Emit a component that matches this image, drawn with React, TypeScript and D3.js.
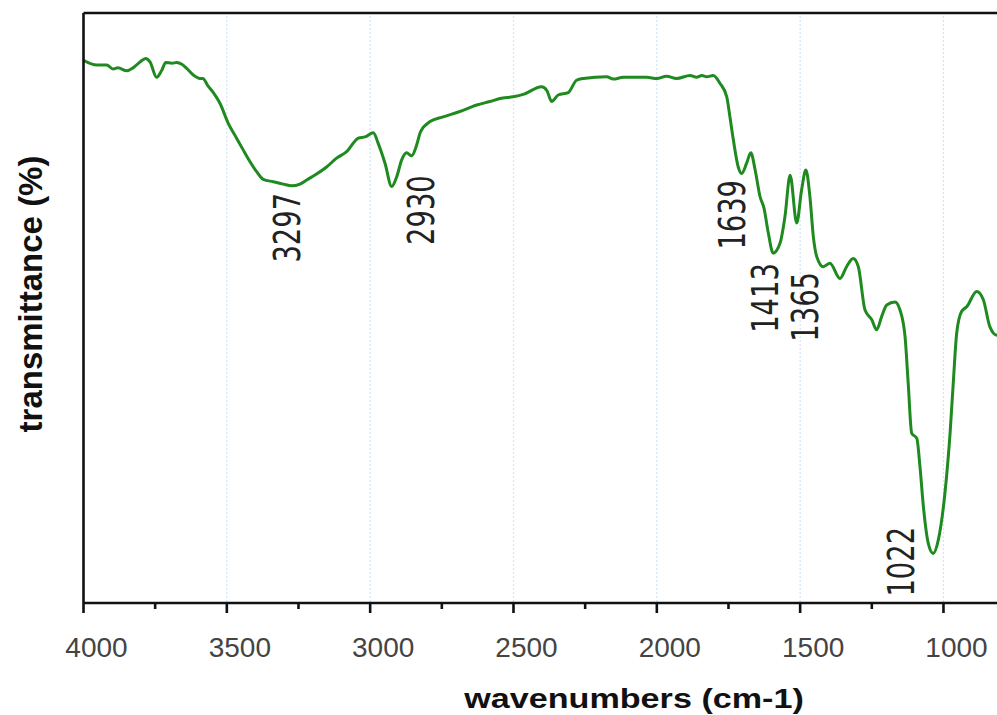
import React from "react";
import * as d3 from "d3";

// Spectrum: wavenumber (cm-1) and transmittance (%)
const wavenumbers = [
  4000, 3954, 3919, 3897, 3880, 3849, 3827, 3803, 3783, 3768, 3745, 3727, 3713, 3692, 3675, 3657, 3640, 3617,
  3594, 3584, 3565, 3547, 3524, 3495, 3472, 3443, 3419, 3396, 3373, 3338, 3303, 3274, 3245, 3221, 3187, 3152,
  3117, 3082, 3041, 3018, 2989, 2972, 2948, 2925, 2907, 2890, 2873, 2855, 2840, 2824, 2791, 2745, 2687, 2628,
  2582, 2547, 2501, 2466, 2402, 2384, 2367, 2344, 2309, 2280, 2256, 2175, 2152, 2117, 2035, 2000, 1966, 1931,
  1884, 1861, 1843, 1826, 1803, 1780, 1756, 1745, 1733, 1716, 1704, 1687, 1672, 1657, 1640, 1626, 1611, 1594,
  1570, 1553, 1535, 1512, 1495, 1480, 1466, 1454, 1442, 1419, 1396, 1361, 1338, 1315, 1297, 1274, 1250, 1233,
  1216, 1198, 1169, 1152, 1134, 1123, 1111, 1093, 1082, 1070, 1053, 1036, 1018, 995, 977, 966, 954, 937, 919,
  884, 861, 838, 814, 785,
];
const transmittance = [
  92.0, 91.2, 91.2, 90.5, 90.7, 90.2, 90.7, 91.7, 92.3, 91.7, 89.1, 90.3, 91.6, 91.5, 91.6, 91.3, 90.6, 89.5,
  88.9, 88.9, 87.6, 86.5, 84.7, 81.3, 79.3, 76.8, 74.8, 73.1, 71.8, 71.4, 71.0, 70.7, 71.0, 71.7, 72.7, 73.9,
  75.4, 76.5, 78.8, 79.0, 79.7, 77.9, 74.5, 70.6, 72.3, 75.1, 76.3, 75.8, 77.3, 79.9, 81.6, 82.4, 83.3, 84.4,
  85.0, 85.5, 85.8, 86.2, 87.5, 86.9, 85.0, 86.1, 86.5, 88.6, 88.9, 89.2, 88.8, 89.1, 89.1, 88.9, 89.3, 88.9,
  89.4, 89.1, 89.4, 89.2, 89.4, 88.1, 85.8, 82.4, 78.5, 73.9, 72.8, 74.5, 76.3, 73.4, 68.9, 66.9, 62.7, 59.3,
  61.0, 65.5, 72.5, 64.4, 70.0, 73.4, 68.9, 62.1, 58.7, 57.0, 57.6, 55.0, 57.0, 58.4, 57.0, 49.7, 48.0, 46.3,
  48.5, 50.5, 51.0, 49.7, 45.1, 37.2, 28.8, 27.9, 23.1, 16.3, 10.1, 8.4, 10.7, 18.6, 28.8, 37.2, 45.7, 49.4, 50.2,
  52.8, 51.4, 46.8, 45.4, 46.0,
];

// Peak annotations: text, wavenumber where the label sits, transmittance at label top
const peakLabels = ["3297", "2930", "1639", "1413", "1365", "1022"];
const peakLabelWavenumbers = [3290, 2823, 1738, 1623, 1483, 1148];
const peakLabelTops = [69.5, 72.5, 71.7, 57.6, 56.1, 12.9];

const majorTicks = [4000, 3500, 3000, 2500, 2000, 1500, 1000];
const minorTicks = [3750, 3250, 2750, 2250, 1750, 1250];
const gridTicks = [3500, 3000, 2500, 2000, 1500, 1000];

const xTitle = "wavenumbers (cm-1)";
const yTitle = "transmittance (%)";

const W = 997;
const H = 715;
const left = 83.5;
const top = 13;
const bottom = 603;
const pxPer500 = 143.33;

export default function App() {
  const x = d3
    .scaleLinear()
    .domain([4000, 400])
    .range([left, left + (3600 / 500) * pxPer500]);
  const y = d3.scaleLinear().domain([0, 100]).range([bottom, top]);

  const pts = wavenumbers.map((w, i) => [w, transmittance[i]] as [number, number]);
  const line = d3
    .line<[number, number]>()
    .x((d) => x(d[0]))
    .y((d) => y(d[1]))
    .curve(d3.curveMonotoneX);

  const green = "#1f8a1f";
  const labelFs = 37;

  return (
    <svg
      width={W}
      height={H}
      style={{ position: "absolute", left: 0, top: 0, background: "#fff" }}
    >
      <defs>
        <clipPath id="plotclip">
          <rect x={left} y={top} width={W - left} height={bottom - top} />
        </clipPath>
      </defs>
      {/* grid */}
      {gridTicks.map((t) => (
        <line
          key={"g" + t}
          x1={x(t)}
          x2={x(t)}
          y1={top + 3}
          y2={bottom}
          stroke="#cfe5f7"
          strokeWidth={1.2}
          strokeDasharray="2,2"
        />
      ))}
      {/* spectrum */}
      <path
        d={line(pts) || ""}
        fill="none"
        stroke={green}
        strokeWidth={3}
        strokeLinejoin="round"
        clipPath="url(#plotclip)"
      />
      {/* frame */}
      <line x1={left} x2={W} y1={top} y2={top} stroke="#111" strokeWidth={2.6} />
      <line x1={left} x2={left} y1={top} y2={bottom} stroke="#111" strokeWidth={2.6} />
      <line x1={left} x2={W} y1={bottom} y2={bottom} stroke="#111" strokeWidth={2.6} />
      {majorTicks.map((t) => (
        <line key={"M" + t} x1={x(t)} x2={x(t)} y1={bottom} y2={bottom + 10} stroke="#111" strokeWidth={2.6} />
      ))}
      {minorTicks.map((t) => (
        <line key={"m" + t} x1={x(t)} x2={x(t)} y1={bottom} y2={bottom + 6} stroke="#111" strokeWidth={2.6} />
      ))}
      {majorTicks.map((t) => (
        <text
          key={"l" + t}
          x={x(t) + 13}
          y={657}
          textAnchor="middle"
          fontFamily="'Liberation Sans', Arial, sans-serif"
          fontSize={28}
          fill="#444"
        >
          {t}
        </text>
      ))}
      {/* axis titles */}
      <text
        transform={`translate(634,708) scale(1.22,1)`}
        textAnchor="middle"
        fontFamily="'Liberation Sans', Arial, sans-serif"
        fontWeight="bold"
        fontSize={28}
        fill="#111"
      >
        {xTitle}
      </text>
      <text
        transform={`translate(42,294) rotate(-90)`}
        textAnchor="middle"
        fontFamily="'Liberation Sans', Arial, sans-serif"
        fontWeight="bold"
        fontSize={33}
        fill="#111"
      >
        {yTitle}
      </text>
      {/* peak labels */}
      {peakLabels.map((lab, i) => (
        <text
          key={"p" + lab}
          transform={`translate(${x(peakLabelWavenumbers[i])},${y(peakLabelTops[i])}) rotate(-90) scale(0.74,1)`}
          textAnchor="end"
          dy="0.36em"
          fontFamily="'DejaVu Sans', sans-serif"
          fontSize={labelFs}
          fill="#222"
        >
          {lab}
        </text>
      ))}
    </svg>
  );
}
